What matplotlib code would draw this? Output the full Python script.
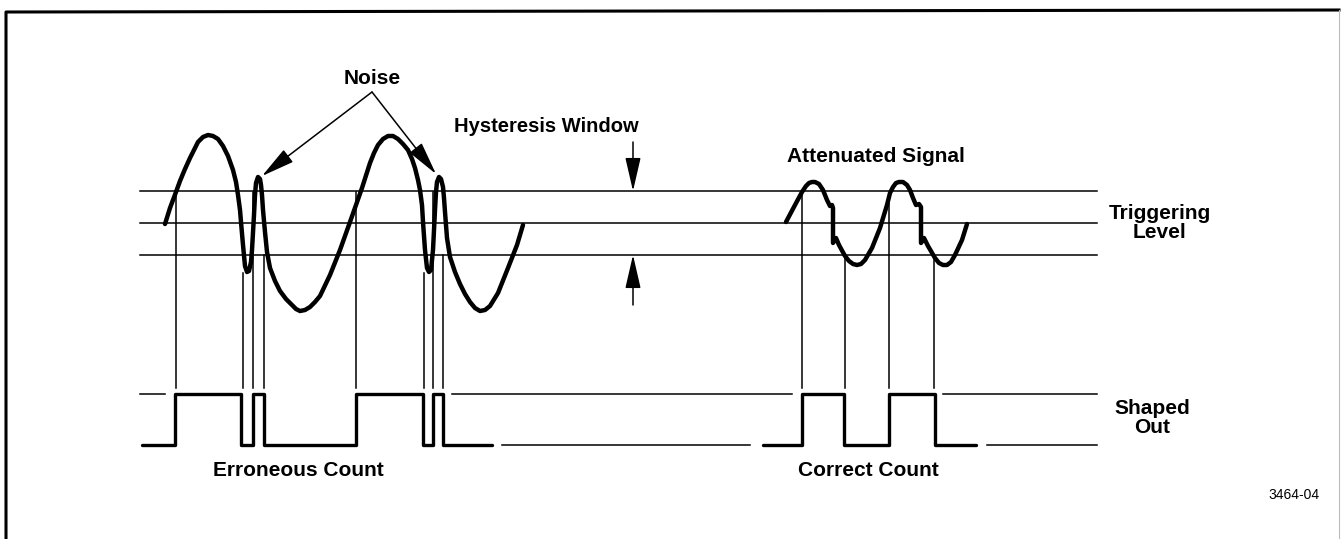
import numpy as np
import matplotlib.pyplot as plt

# all values in pixel units (y grows downwards)
W, H = 1341, 539

# trigger levels (upper hysteresis, triggering level, lower hysteresis)
levels = [191, 223, 255]
level_x = (140, 1097)

# shaped output levels
out_hi, out_lo = 394, 445

# noisy input signal
sig_x = [165, 170, 176, 180, 185, 190, 194, 198, 203, 208, 213, 218, 223, 228,
         233, 236, 238, 240, 241, 243, 245, 247, 249, 251, 252, 254, 255, 256,
         258, 260, 261, 262, 263, 265, 267, 270, 275, 280, 286, 292, 296, 300,
         305, 310, 315, 320, 330, 340, 350, 356, 362, 370, 374, 378, 383, 388,
         393, 398, 403, 408, 412, 415, 418, 420, 422, 423, 425, 427, 429, 431,
         433, 435, 436, 437, 439, 441, 443, 444, 445, 447, 450, 455, 460, 465,
         470, 475, 480, 485, 490, 498, 508, 517, 523]
sig_y = [224, 208, 192, 181, 169, 158, 150, 142, 137, 135, 136, 139, 146, 156,
         170, 182, 195, 210, 222, 245, 266, 272, 271, 262, 250, 215, 195, 183,
         177, 179, 185, 195, 210, 232, 252, 268, 281, 291, 299, 305, 309, 311,
         310, 307, 302, 296, 275, 250, 222, 205, 188, 163, 153, 145, 139, 136,
         136, 139, 144, 150, 159, 168, 180, 190, 205, 222, 250, 268, 272, 270,
         250, 210, 192, 182, 177, 179, 187, 198, 212, 238, 257, 272, 284, 294,
         302, 308, 311, 310, 306, 293, 268, 245, 225]

# attenuated signal
att_x = [786, 795, 802, 806, 809, 812, 815, 819, 823, 827, 830, 832, 833, 833,
         836, 839, 845, 849, 853, 857, 861, 865, 872, 880, 887, 890, 893, 896,
         899, 903, 907, 910, 913, 916, 919, 921, 921, 924, 928, 935, 939, 943,
         947, 951, 955, 962, 967]
att_y = [222, 205, 192, 186, 183, 182, 182, 184, 190, 200, 206, 205, 208, 243,
         238, 245, 256, 261, 264, 265, 264, 260, 248, 228, 205, 193, 187, 183,
         182, 182, 185, 190, 198, 205, 204, 207, 243, 238, 246, 258, 263, 265,
         265, 262, 255, 240, 224]

# comparator edges (first edge rises)
err_edges = [175, 241, 253, 264, 356, 423, 433, 443]
err_span = (142, 492)
ok_edges = [802, 844, 889, 935]
ok_span = (763, 976)

# thin drop lines from the crossings down to the output
drop_x = [176, 243, 253, 264, 356, 424, 433, 443, 802, 845, 889, 934]
drop_top = [192, 273, 192, 255, 192, 273, 192, 255, 191, 257, 193, 257]
drop_bot = 388

# thin reference lines of the output
hi_refs = [(140, 165), (452, 792), (943, 1097)]
lo_refs = [(502, 750), (987, 1097)]


def steps(edges, span):
    xs, ys = [span[0]], [out_lo]
    state = out_lo
    for e in edges:
        xs += [e, e]
        ys += [state, out_hi if state == out_lo else out_lo]
        state = ys[-1]
    xs.append(span[1])
    ys.append(state)
    return xs, ys


fig = plt.figure(figsize=(W / 100, H / 100), dpi=100)
ax = fig.add_axes([0, 0, 1, 1])
ax.set_xlim(0, W)
ax.set_ylim(H, 0)
ax.axis('off')

thin = dict(color='black', lw=1.1)

# frame
ax.plot([6, 6, W - 2], [H, 12, 10], color='black', lw=2.2)
ax.plot([W - 2, W - 2], [10, H], color='#bbbbbb', lw=0.8)

for lv in levels:
    ax.plot(level_x, [lv, lv], **thin)

for x, t in zip(drop_x, drop_top):
    ax.plot([x, x], [t, drop_bot], **thin)

for a, b in hi_refs:
    ax.plot([a, b], [out_hi, out_hi], **thin)
for a, b in lo_refs:
    ax.plot([a, b], [out_lo, out_lo], **thin)

ax.plot(sig_x, sig_y, color='black', lw=3.2, solid_joinstyle='round',
        solid_capstyle='round')
ax.plot(att_x, att_y, color='black', lw=3.2, solid_joinstyle='round',
        solid_capstyle='round')

for edges, span in [(err_edges, err_span), (ok_edges, ok_span)]:
    xs, ys = steps(edges, span)
    ax.plot(xs, ys, color='black', lw=2.4, solid_joinstyle='round',
            solid_capstyle='round')

arr = dict(arrowstyle='-|>,head_length=1.3,head_width=0.3', color='black',
           lw=1.1, mutation_scale=16, shrinkA=0, shrinkB=0)
ax.annotate('', xy=(262, 176), xytext=(372, 92), arrowprops=arr)
ax.annotate('', xy=(436, 174), xytext=(372, 92), arrowprops=arr)
ax.annotate('', xy=(633, 191), xytext=(633, 142), arrowprops=arr)
ax.annotate('', xy=(633, 255), xytext=(633, 305), arrowprops=arr)

bold = dict(fontsize=15, fontweight='bold', family='Liberation Sans',
            ha='center', va='center')
ax.text(372, 79, 'Noise', **bold)
ax.text(546, 127, 'Hysteresis Window', fontsize=14.5, fontweight='bold',
        family='Liberation Sans', ha='center', va='center')
ax.text(876, 156, 'Attenuated Signal', **bold)
ax.text(1160, 223, 'Triggering\nLevel', linespacing=1.05, **bold)
ax.text(1152, 418, 'Shaped\nOut', linespacing=1.05, **bold)
ax.text(298, 470, 'Erroneous Count', **bold)
ax.text(868, 470, 'Correct Count', **bold)
ax.text(1294, 495, '3464-04', fontsize=10, family='Liberation Sans',
        ha='center', va='center')

fig.savefig('out.png', dpi=100)
